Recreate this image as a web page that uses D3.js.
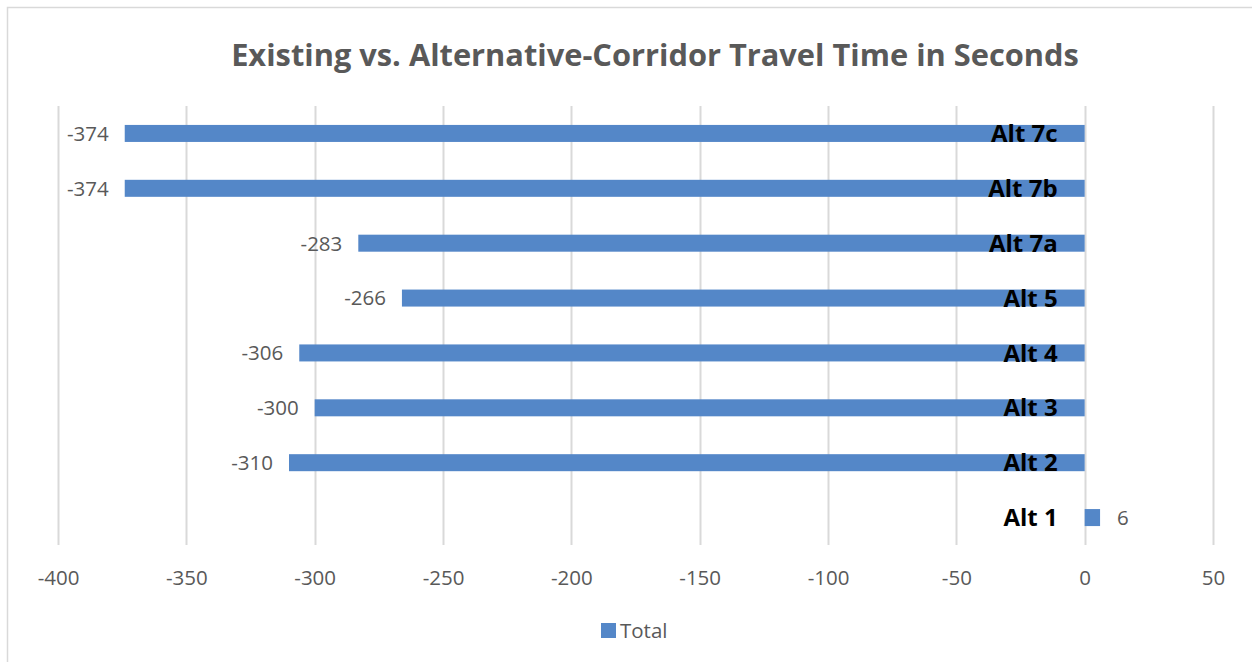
<!DOCTYPE html>
<html>
<head>
<meta charset="utf-8">
<script src="https://cdn.jsdelivr.net/npm/d3@7"></script>
<style>
  html, body { margin: 0; padding: 0; background: #fff; }
  svg { display: block; }
</style>
</head>
<body>
<svg id="chart" width="1252" height="662"></svg>
<script>
// Travel-time difference (seconds) per alternative, top to bottom
const categories = ["Alt 7c", "Alt 7b", "Alt 7a", "Alt 5", "Alt 4", "Alt 3", "Alt 2", "Alt 1"];
const totals = [-374, -374, -283, -266, -306, -300, -310, 6];
const tickValues = [-400, -350, -300, -250, -200, -150, -100, -50, 0, 50];
const seriesName = "Total";
const titleText = "Existing vs. Alternative-Corridor Travel Time in Seconds";

const W = 1252, H = 662;
const margin = { left: 58, right: 1213, top: 106, bottom: 545 };
const barColor = "#5487C8";
const gridColor = "#d9d9d9";
const textGray = "#595959";
const font = "'Open Sans', sans-serif";
const smallSize = 20.5;

const svg = d3.select("#chart");

// chart area frame
svg.append("rect")
  .attr("x", 7.5).attr("y", 7.5)
  .attr("width", W + 20).attr("height", H + 20)
  .attr("fill", "#fff").attr("stroke", "#d9d9d9").attr("stroke-width", 1.5);

const x = d3.scaleLinear().domain([-400, 50]).range([margin.left, margin.right]);
const y = d3.scaleBand().domain(categories).range([margin.top, margin.bottom]).paddingInner(0.69).paddingOuter(0.345);

// vertical gridlines
svg.append("g").selectAll("line")
  .data(tickValues)
  .join("line")
  .attr("x1", d => Math.round(x(d)) + 0.5).attr("x2", d => Math.round(x(d)) + 0.5)
  .attr("y1", margin.top).attr("y2", margin.bottom)
  .attr("stroke", gridColor).attr("stroke-width", 2);

// bottom axis labels
const xAxis = d3.axisBottom(x).tickValues(tickValues).tickSize(0).tickPadding(0).tickFormat(d3.format("d"));
const gx = svg.append("g").attr("transform", `translate(0,${margin.bottom + 33})`).call(xAxis);
gx.select(".domain").remove();
gx.selectAll("text")
  .attr("font-family", font).attr("font-size", smallSize)
  .attr("fill", textGray).attr("dy", "0.36em").attr("y", 0)
  .text(d => d < 0 ? "-" + Math.abs(d) : d);

// bars
const data = categories.map((c, i) => ({ cat: c, v: totals[i] }));
svg.append("g").selectAll("rect")
  .data(data)
  .join("rect")
  .attr("x", d => x(Math.min(0, d.v)))
  .attr("width", d => Math.abs(x(d.v) - x(0)))
  .attr("y", d => y(d.cat))
  .attr("height", y.bandwidth())
  .attr("fill", barColor);

// value labels, outside bar end
svg.append("g").selectAll("text")
  .data(data)
  .join("text")
  .attr("x", d => d.v < 0 ? x(d.v) - 16 : x(d.v) + 17)
  .attr("y", d => y(d.cat) + y.bandwidth() / 2)
  .attr("dy", "0.36em")
  .attr("text-anchor", d => d.v < 0 ? "end" : "start")
  .attr("font-family", font).attr("font-size", smallSize)
  .attr("fill", textGray)
  .text(d => d.v < 0 ? "-" + Math.abs(d.v) : d.v);

// category labels next to the zero line
const yAxis = d3.axisLeft(y).tickSize(0).tickPadding(27);
const gy = svg.append("g").attr("transform", `translate(${x(0)},0)`).call(yAxis);
gy.select(".domain").remove();
gy.selectAll("text")
  .attr("font-family", font).attr("font-size", 24).attr("font-weight", "bold")
  .attr("fill", "#000").attr("dy", "0.36em");

// title
svg.append("text")
  .attr("x", 655).attr("y", 55)
  .attr("dy", "0.36em")
  .attr("text-anchor", "middle")
  .attr("font-family", font).attr("font-size", 30.8).attr("font-weight", "bold")
  .attr("fill", textGray)
  .text(titleText);

// legend
const lg = svg.append("g").attr("transform", "translate(601,623)");
lg.append("rect").attr("width", 15).attr("height", 15).attr("fill", barColor);
lg.append("text").attr("x", 19).attr("y", 7.5).attr("dy", "0.36em")
  .attr("font-family", font).attr("font-size", smallSize).attr("fill", textGray)
  .text(seriesName);
</script>
</body>
</html>
